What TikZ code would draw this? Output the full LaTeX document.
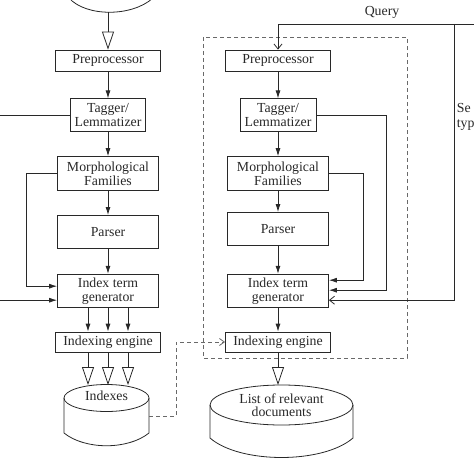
\documentclass[tikz,border=0pt]{standalone}
\usepackage{fontspec}
\setmainfont{Liberation Serif}
\usepackage{tikz}
\usetikzlibrary{arrows.meta,positioning}
\definecolor{dfline}{RGB}{40,40,40}
\definecolor{dfgray}{RGB}{105,105,105}
\tikzstyle{stage} = [rectangle, draw=dfline, line width=0.8pt, inner sep=0pt, align=center, font=\fontsize{13.8}{14}\selectfont]
\tikzstyle{wide} = [minimum width=105pt, minimum height=21pt]
\tikzstyle{tall} = [minimum width=101pt, minimum height=33pt]
\tikzstyle{arrow} = [-{Latex[length=8pt,width=5pt]}]
\tikzstyle{bigarrow} = [-{Triangle[open,length=18pt,width=12pt]}]
\tikzstyle{qarrow} = [-{Straight Barb[length=5pt,width=8pt]}]
\tikzstyle{dlink} = [dfgray, dash pattern=on 4pt off 3pt, -{Straight Barb[length=5pt,width=7pt]}]
\tikzstyle{label} = [inner sep=0pt, font=\fontsize{13.8}{14}\selectfont]

\begin{document}
\begin{tikzpicture}[x=1pt, y=-1pt, line width=0.8pt, color=dfline]
\useasboundingbox (0,0) rectangle (474,460);

% Source collection (cut at the top)
\draw (69,-2) .. controls (86,17) and (132,17) .. (153,-2);
\coordinate (srcbot) at (108,12.5);

% Left column
\node[stage, wide] (lpre) at (108,60.5) {Preprocessor};
\node[stage, tall, minimum width=75pt, below=27pt of lpre] (ltag) {Tagger/\\Lemmatizer};
\node[stage, tall, minimum height=34pt, below=24pt of ltag] (lmorph) {Morphological\\Families};
\node[stage, tall, below=24pt of lmorph] (lparse) {Parser};
\node[stage, tall, below=25pt of lparse] (lgen) {Index term\\generator};
\node[stage, wide, minimum height=20pt, below=24pt of lgen] (leng) {Indexing engine};

% Indexes store
\draw (64,398) -- (64,433) .. controls (85,450) and (128,450) .. (149,433) -- (149,398);
\draw (106.5,398) ellipse [x radius=42.5pt, y radius=13.5pt];
\node[label] (idx) at (106.5,396) {Indexes};
\coordinate (idxtop) at (108,385);
\coordinate (idxside) at (149,416);

% Right column
\node[stage, wide] (rpre) at (278,60.5) {Preprocessor};
\node[stage, tall, minimum width=76pt, below=27pt of rpre] (rtag) {Tagger/\\Lemmatizer};
\node[stage, tall, minimum height=34pt, below=24pt of rtag] (rmorph) {Morphological\\Families};
\node[stage, tall, below=21pt of rmorph] (rparse) {Parser};
\node[stage, tall, below=28pt of rparse] (rgen) {Index term\\generator};
\node[stage, wide, minimum height=20pt, below=24pt of rgen] (reng) {Indexing engine};

% Result list
\draw (210,405) -- (210,438) .. controls (240,464) and (323,464) .. (353,438) -- (353,405);
\draw (281.5,405) ellipse [x radius=71.5pt, y radius=20pt];
\node[label, align=center, font=\fontsize{13.8}{13}\selectfont] (res) at (281.5,405) {List of relevant\\documents};
\coordinate (restop) at (278,385);

% Query side
\draw[dfgray, dash pattern=on 4pt off 3pt] (203,37) rectangle (407,358);
\coordinate (qin) at (490,24);
\coordinate (qsplit) at (454,24);
\node[label] (query) at (382,12) {Query};
\node[label, anchor=north west, align=left, font=\fontsize{13.8}{15}\selectfont] (stype) at (456.5,103) {Se\\typ};

% Left connections
\draw[bigarrow] (srcbot) -- (lpre.north);
\draw[arrow] (lpre) -- (ltag);
\draw[arrow] (ltag) -- (lmorph);
\draw[arrow] (lmorph) -- (lparse);
\draw[arrow] (lparse) -- (lgen);
\foreach \dx in {-20,0,20}
  \draw[arrow] ([xshift=\dx pt]lgen.south) -- ([xshift=\dx pt]leng.north);
\foreach \dx in {-20,0,20}
  \draw[bigarrow] ([xshift=\dx pt]leng.south) -- ([xshift=\dx pt]idxtop);
\draw[arrow] (lmorph.west) -- ++(-31,0) |- ([yshift=4.5pt]lgen.west);
\draw[arrow] (ltag.west) -- ++(-80,0) |- ([yshift=-9.5pt]lgen.west);

% Right connections
\draw[qarrow] (qin) -| (rpre.north);
\draw[arrow] (rpre) -- (rtag);
\draw[arrow] (rtag) -- (rmorph);
\draw[arrow] (rmorph) -- (rparse);
\draw[arrow] (rparse) -- (rgen);
\draw[arrow] (rgen) -- (reng);
\draw[bigarrow] (reng.south) -- (restop);
\draw[arrow] (rtag.east) -- ++(70,0) |- ([yshift=0.5pt]rgen.east);
\draw[arrow] (rmorph.east) -- ++(34,0) |- ([yshift=10.5pt]rgen.east);
\draw[qarrow] (qsplit) |- ([yshift=-9.5pt]rgen.east);

% Indexes feed the query engine
\draw[dlink] (idxside) -- ++(27,0) |- (reng.west);
\end{tikzpicture}
\end{document}
